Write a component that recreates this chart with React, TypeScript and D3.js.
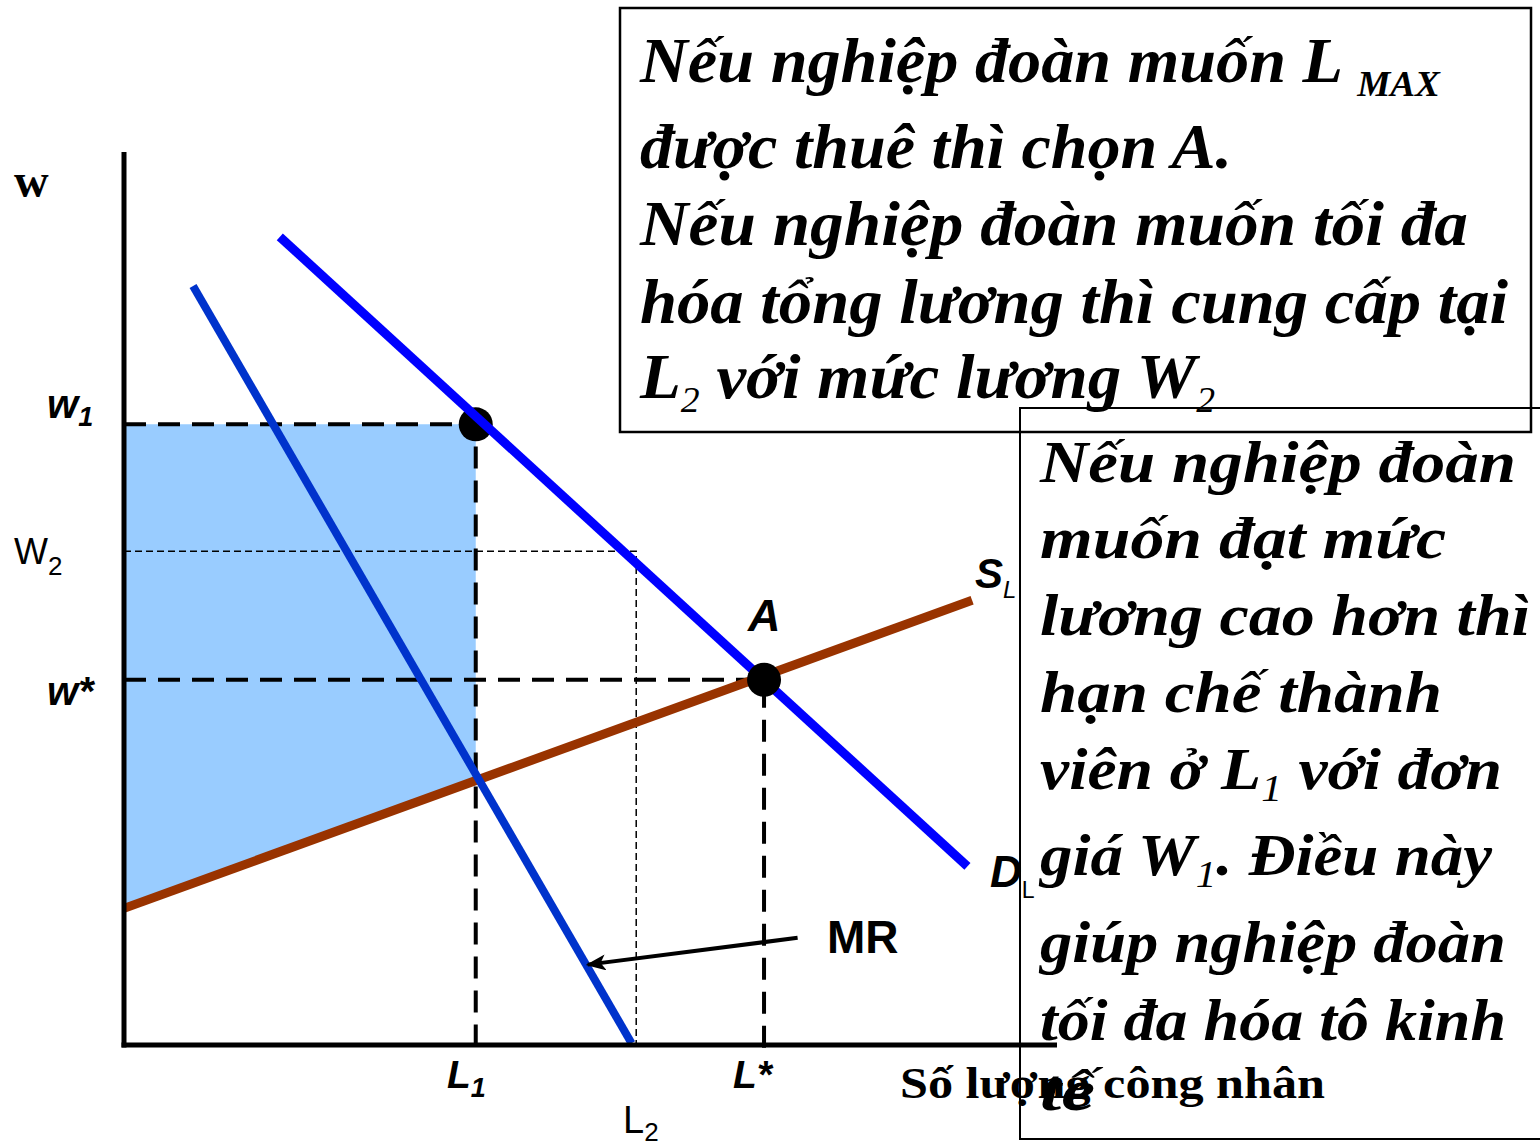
import React from "react";
import * as d3 from "d3";

const W = 1540;
const H = 1142;

// Axis domains (quantity of workers, wage)
const xDomain = [0, 100];
const yDomain = [0, 100];

// Key quantities and wages
const L1 = 37.7;
const L2 = 54.9;
const LSTAR = 68.6;
const W1 = 69.5;
const W2V = 55.3;
const WSTAR = 40.9;

// Curves (endpoints)
const demandLine: [number, number][] = [[16.7, 90.5], [90.4, 20.0]];
const mrLine: [number, number][] = [[7.4, 85.0], [54.4, 0.2]];
const supplyLine: [number, number][] = [[0, 15.3], [90.9, 49.8]];
const mrArrow: [number, number][] = [[72.2, 12.0], [49.7, 9.0]];

type Seg = { t: string; sub?: boolean };

const box1Lines: Seg[][] = [
  [{ t: "Nếu nghiệp đoàn muốn L " }, { t: "MAX", sub: true }],
  [{ t: "được thuê thì chọn A." }],
  [{ t: "Nếu nghiệp đoàn muốn tối đa" }],
  [{ t: "hóa tổng lương thì cung cấp tại" }],
  [{ t: "L" }, { t: "2", sub: true }, { t: " với mức lương W" }, { t: "2", sub: true }],
];

const box2Lines: Seg[][] = [
  [{ t: "Nếu nghiệp đoàn" }],
  [{ t: "muốn đạt mức" }],
  [{ t: "lương cao hơn thì" }],
  [{ t: "hạn chế thành" }],
  [{ t: "viên ở L" }, { t: "1", sub: true }, { t: " với đơn" }],
  [{ t: "giá W" }, { t: "1", sub: true }, { t: ". Điều này" }],
  [{ t: "giúp nghiệp đoàn" }],
  [{ t: "tối đa hóa tô kinh" }],
  [{ t: "tế" }],
];

const xAxisTitle = "Số lượng công nhân";

// layout for text boxes
const box1Baselines = [82, 168, 245, 323, 398];
const box1Widths = [800, 592, 828, 868, 575];
const box2Baselines = [482, 558, 635, 712, 789, 875, 962, 1040, 1110];
const box2Widths = [476, 406, 490, 402, 462, 452, 466, 466, 55];

function renderSegs(
  segs: Seg[],
  mainSize: number,
  subSize: number,
  subDy: number,
  subWeight: string
) {
  const out: React.ReactNode[] = [];
  let shifted = false;
  segs.forEach((s, i) => {
    if (s.sub) {
      out.push(
        <tspan key={i} fontSize={subSize} fontWeight={subWeight} dy={shifted ? 0 : subDy}>
          {s.t}
        </tspan>
      );
      shifted = true;
    } else {
      out.push(
        <tspan key={i} fontSize={mainSize} dy={shifted ? -subDy : 0}>
          {s.t}
        </tspan>
      );
      shifted = false;
    }
  });
  return out;
}

export default function App() {
  const x = d3.scaleLinear().domain(xDomain).range([124, 1057]);
  const y = d3.scaleLinear().domain(yDomain).range([1045, 152]);
  const line = d3
    .line<[number, number]>()
    .x((d) => x(d[0]))
    .y((d) => y(d[1]));

  const sAt = (q: number) => {
    const [[x0, y0], [x1, y1]] = supplyLine;
    return y0 + ((y1 - y0) * (q - x0)) / (x1 - x0);
  };
  const shaded: [number, number][] = [
    [0, W1],
    [L1, W1],
    [L1, sAt(L1)],
    [0, sAt(0)],
  ];

  const serif = "'Liberation Serif', 'DejaVu Serif', serif";
  const sans = "'Liberation Sans', Arial, sans-serif";

  return (
    <div style={{ position: "absolute", left: 0, top: 0, width: W, height: H }}>
      <svg width={W} height={H} viewBox={`0 0 ${W} ${H}`} style={{ display: "block", background: "#fff" }}>
        <defs>
          <marker
            id="arrow"
            markerUnits="userSpaceOnUse"
            markerWidth={20}
            markerHeight={16}
            refX={18}
            refY={8}
            orient="auto"
          >
            <path d="M0,0 L20,8 L0,16 L5,8 Z" fill="#000" />
          </marker>
        </defs>

        {/* shaded total wage area */}
        <path d={line(shaded) + "Z"} fill="#99CCFF" stroke="none" />

        {/* thin dashed guides for W2 / L2 */}
        <path
          d={line([[0, W2V], [L2, W2V], [L2, 0]])!}
          fill="none"
          stroke="#000"
          strokeWidth={1.5}
          strokeDasharray="7,4"
        />

        {/* thick dashed guides */}
        <path
          d={line([[0, W1], [L1, W1], [L1, -0.8]])!}
          fill="none"
          stroke="#000"
          strokeWidth={4}
          strokeDasharray="22,12"
        />
        <path
          d={line([[0, WSTAR], [LSTAR, WSTAR], [LSTAR, -0.8]])!}
          fill="none"
          stroke="#000"
          strokeWidth={4}
          strokeDasharray="22,12"
        />

        {/* supply */}
        <path d={line(supplyLine)!} stroke="#993300" strokeWidth={9} fill="none" />
        {/* MR */}
        <path d={line(mrLine)!} stroke="#0033CC" strokeWidth={8} fill="none" />

        {/* point at L1 (under demand line) */}
        <circle cx={x(L1)} cy={y(W1)} r={17} fill="#000" />

        {/* demand */}
        <path d={line(demandLine)!} stroke="#0000FF" strokeWidth={9} fill="none" />

        {/* axes */}
        <line x1={x(0)} y1={y(100)} x2={x(0)} y2={y(0) + 2.5} stroke="#000" strokeWidth={5} />
        <line x1={x(0) - 2.5} y1={y(0)} x2={x(100)} y2={y(0)} stroke="#000" strokeWidth={5} />

        {/* point A */}
        <circle cx={x(LSTAR)} cy={y(WSTAR)} r={17} fill="#000" />

        {/* MR arrow */}
        <path d={line(mrArrow)!} stroke="#000" strokeWidth={4} fill="none" markerEnd="url(#arrow)" />

        {/* labels */}
        <text x={14} y={197} fontFamily={serif} fontWeight="bold" fontSize={48}>w</text>
        <text x={47} y={418} fontFamily={sans} fontWeight="bold" fontStyle="italic" fontSize={40}>
          w<tspan fontSize={27} dy={8}>1</tspan>
        </text>
        <text x={14} y={564} fontFamily={sans} fontSize={36}>
          W<tspan fontSize={26} dy={11}>2</tspan>
        </text>
        <text x={47} y={705} fontFamily={sans} fontWeight="bold" fontStyle="italic" fontSize={40}>w*</text>
        <text x={447} y={1088} fontFamily={sans} fontWeight="bold" fontStyle="italic" fontSize={39}>
          L<tspan fontSize={27} dy={9}>1</tspan>
        </text>
        <text x={733} y={1088} fontFamily={sans} fontWeight="bold" fontStyle="italic" fontSize={39}>L*</text>
        <text x={623} y={1133} fontFamily={sans} fontSize={38}>
          L<tspan fontSize={26} dy={8}>2</tspan>
        </text>
        <text x={748} y={631} fontFamily={sans} fontWeight="bold" fontStyle="italic" fontSize={45}>A</text>
        <text x={975} y={588} fontFamily={sans} fontWeight="bold" fontStyle="italic" fontSize={42}>
          S<tspan fontSize={24} dy={10} fontWeight="normal">L</tspan>
        </text>
        <text x={990} y={887} fontFamily={sans} fontWeight="bold" fontStyle="italic" fontSize={44}>
          D<tspan fontSize={23} dy={11} fontWeight="normal" fontStyle="normal">L</tspan>
        </text>
        <text x={827} y={953} fontFamily={sans} fontWeight="bold" fontSize={46}>MR</text>

        {/* text box 1 */}
        <rect x={620} y={8} width={911} height={424} fill="none" stroke="#000" strokeWidth={2.5} />
        {box1Lines.map((segs, i) => (
          <text
            key={i}
            x={640}
            y={box1Baselines[i]}
            fontFamily={serif}
            fontWeight="bold"
            fontStyle="italic"
            fontSize={64}
            textLength={box1Widths[i]}
            lengthAdjust="spacingAndGlyphs"
          >
            {renderSegs(segs, 64, 36, 14, i === 0 ? "bold" : "normal")}
          </text>
        ))}

        {/* text box 2 */}
        <rect x={1020} y={408} width={540} height={731} fill="none" stroke="#000" strokeWidth={2} />
        {box2Lines.map((segs, i) => (
          <text
            key={i}
            x={1040}
            y={box2Baselines[i]}
            fontFamily={serif}
            fontWeight="bold"
            fontStyle="italic"
            fontSize={60}
            textLength={box2Widths[i]}
            lengthAdjust="spacingAndGlyphs"
          >
            {renderSegs(segs, 60, 38, 12, "normal")}
          </text>
        ))}

        {/* x axis title */}
        <text
          x={900}
          y={1098}
          fontFamily={serif}
          fontWeight="bold"
          fontSize={44}
          textLength={425}
          lengthAdjust="spacingAndGlyphs"
        >
          {xAxisTitle}
        </text>
      </svg>
    </div>
  );
}
